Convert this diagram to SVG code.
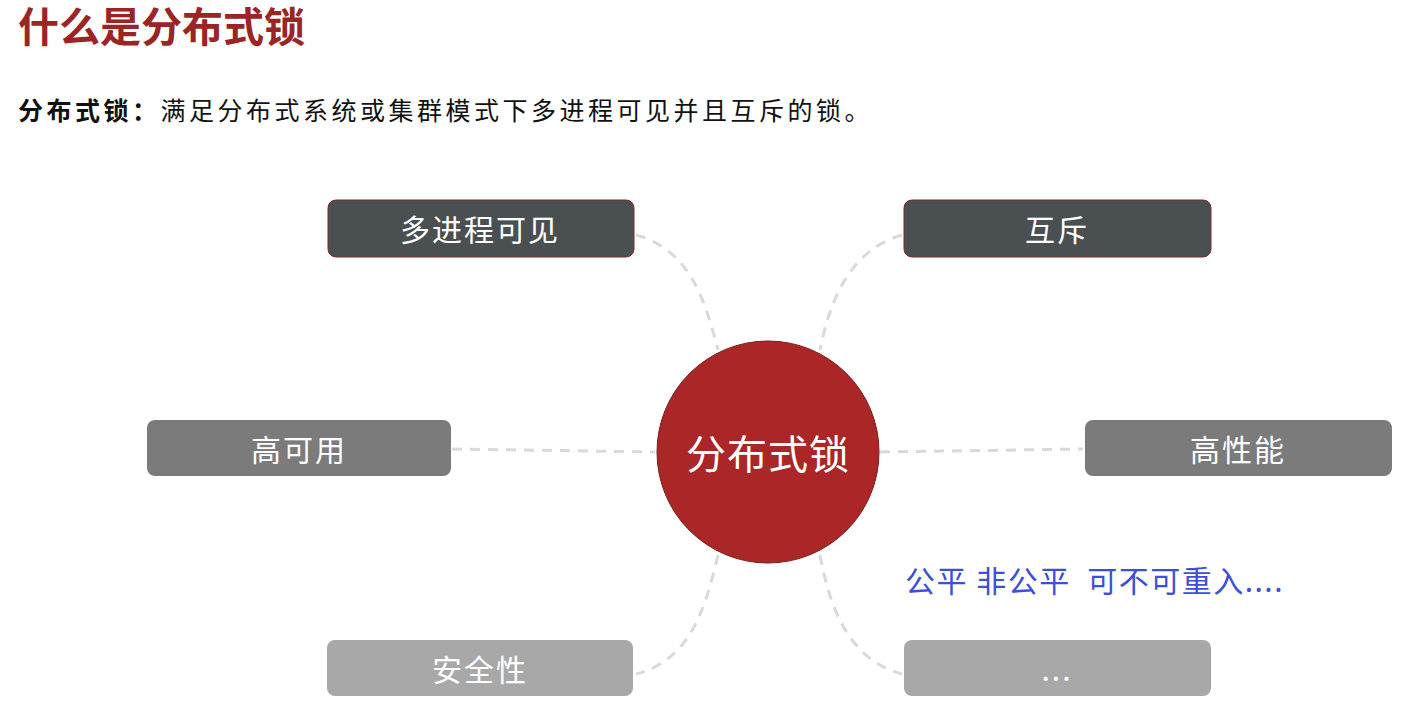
<svg xmlns="http://www.w3.org/2000/svg" width="1422" height="716" viewBox="0 0 1422 716">
<style>
text{font-family:"Noto Sans CJK SC","Liberation Sans",sans-serif}
.lbl{fill:#fff;font-size:30px;letter-spacing:2px;text-anchor:middle;dominant-baseline:central}
.c{fill:none;stroke:#d9d9d9;stroke-width:3;stroke-dasharray:10 8}
.dark{fill:#4a4f52;stroke:#7a2a2a;stroke-width:1}
.mid{fill:#7b7b7b}
.light{fill:#a8a8a8}
</style>
<rect width="1422" height="716" fill="#fff"/>
<text x="18" y="42" font-size="41" font-weight="bold" fill="#9b2424">什么是分布式锁</text>
<text x="18" y="120" font-size="25" letter-spacing="3.5" fill="#111"><tspan font-weight="bold">分布式锁：</tspan>满足分布式系统或集群模式下多进程可见并且互斥的锁。</text>
<g id="connectors">
<path class="c" d="M636 235 C690 250 705 300 718 350"/>
<path class="c" d="M902 235 C850 250 830 300 820 350"/>
<path class="c" d="M452 449 L655 452"/>
<path class="c" d="M880 452 L1083 449"/>
<path class="c" d="M718 555 C705 610 690 660 636 674"/>
<path class="c" d="M820 555 C830 610 850 660 902 674"/>
</g>
<g id="n1"><rect class="dark" x="328" y="200" width="306" height="57" rx="8"/><text class="lbl" x="480" y="228">多进程可见</text></g>
<g id="n2"><rect class="dark" x="904" y="200" width="307" height="57" rx="8"/><text class="lbl" x="1057" y="228">互斥</text></g>
<g id="n3"><rect class="mid" x="147" y="420" width="304" height="56" rx="8"/><text class="lbl" x="299" y="448">高可用</text></g>
<g id="n4"><rect class="mid" x="1085" y="420" width="307" height="56" rx="8"/><text class="lbl" x="1238" y="448">高性能</text></g>
<g id="n5"><rect class="light" x="327" y="640" width="306" height="56" rx="8"/><text class="lbl" x="480" y="668">安全性</text></g>
<g id="n6"><rect class="light" x="904" y="640" width="307" height="56" rx="8"/><text class="lbl" x="1057" y="668">...</text></g>
<g id="center"><circle cx="768" cy="452" r="111" fill="#ab2727" stroke="#7a1a1a" stroke-width="1"/><text class="lbl" x="768" y="452" style="font-size:40px;letter-spacing:1px">分布式锁</text></g>
<text x="905" y="592" font-size="30" letter-spacing="1.5" fill="#3c4fd6" xml:space="preserve">公平 非公平  可不可重入....</text>
</svg>
